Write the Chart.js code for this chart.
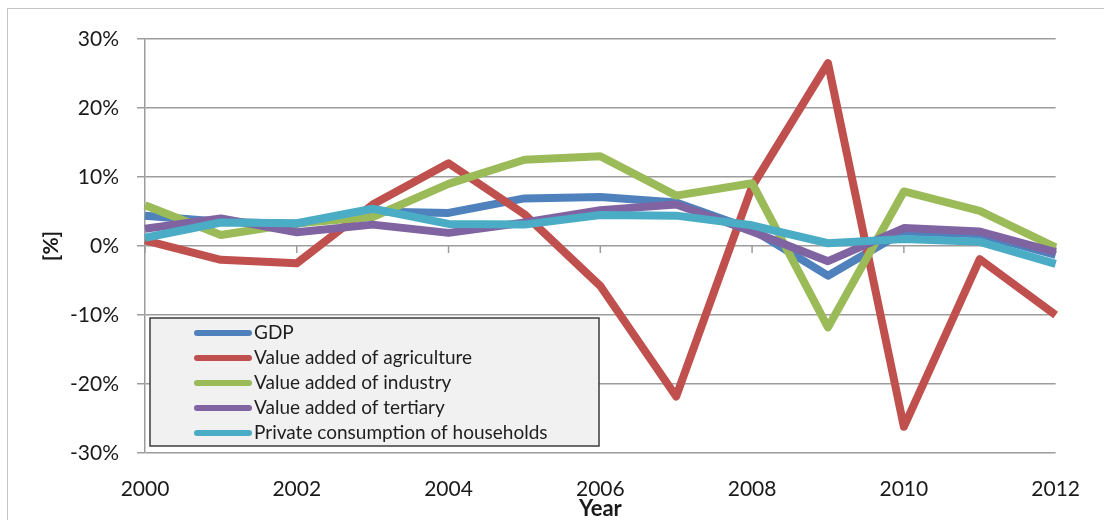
<!DOCTYPE html>
<html>
<head>
<meta charset="utf-8">
<title>Growth rates 2000–2012</title>
<script src="https://cdn.jsdelivr.net/npm/chart.js@4.4.1/dist/chart.umd.min.js"></script>
<style>
  html, body { margin: 0; padding: 0; background: #ffffff; overflow: hidden; }
  #wrap { position: relative; width: 1104px; height: 520px; overflow: hidden; }
  #frame { position: absolute; left: 7px; top: 8px; width: 1200px; height: 600px;
           border: 1.5px solid #c4c4c4; box-sizing: border-box; }
  #c { position: absolute; left: 0; top: 0; }
</style>
</head>
<body>
<div id="wrap">
  <div id="frame"></div>
  <canvas id="c" width="1104" height="520"></canvas>
</div>
<script>
// Years on the horizontal axis
const years = ['2000','2001','2002','2003','2004','2005','2006','2007','2008','2009','2010','2011','2012'];

// Annual growth rates, in percent
const gdp         = [4.4, 3.5, 3.2, 5.0, 4.8, 6.9, 7.1, 6.3, 2.4, -4.3, 2.1, 1.7, -1.3];
const agriculture = [0.8, -2.0, -2.5, 6.0, 12.0, 4.6, -5.8, -21.8, 8.6, 26.5, -26.2, -1.9, -10.0];
const industry    = [5.9, 1.6, 3.3, 4.2, 9.0, 12.5, 13.0, 7.3, 9.1, -11.8, 7.9, 5.1, -0.2];
const tertiary    = [2.5, 4.0, 2.0, 3.1, 1.9, 3.4, 5.2, 6.0, 2.1, -2.2, 2.6, 2.1, -0.9];
const households  = [1.2, 3.4, 3.3, 5.4, 3.2, 3.1, 4.5, 4.4, 3.0, 0.4, 1.0, 0.6, -2.6];

// Series names
const seriesNames = [
  'GDP',
  'Value added of agriculture',
  'Value added of industry',
  'Value added of tertiary',
  'Private consumption of households'
];

// Vertical axis ticks
const yTicks = [-30, -20, -10, 0, 10, 20, 30];

const colors = ['#4F81BD', '#C0504D', '#9BBB59', '#8064A2', '#4BACC6'];
const seriesValues = [gdp, agriculture, industry, tertiary, households];

const datasets = seriesValues.map((vals, i) => ({
  label: seriesNames[i],
  data: vals,
  borderColor: colors[i],
  backgroundColor: colors[i],
  borderWidth: 8,
  pointRadius: 0,
  pointHoverRadius: 0,
  tension: 0,
  fill: false,
  borderCapStyle: 'butt',
  borderJoinStyle: 'round',
  order: seriesValues.length - i   // later series drawn on top
}));

const gridGray = '#9c9c9c';
const labelFont = "Lato, 'Open Sans', 'Liberation Sans', sans-serif";

// Horizontal axis crossing at 0 %, with a tick every two years
const zeroAxisPlugin = {
  id: 'zeroAxis',
  beforeDatasetsDraw(chart) {
    const { ctx, scales: { x, y } } = chart;
    const y0 = y.getPixelForValue(0);
    ctx.save();
    ctx.strokeStyle = gridGray;
    ctx.lineWidth = 1.5;
    ctx.beginPath();
    for (let i = 0; i < years.length; i += 2) {
      const px = x.getPixelForValue(i);
      ctx.moveTo(px, y0);
      ctx.lineTo(px, y0 + 7);
    }
    ctx.stroke();
    ctx.restore();
  }
};

// Boxed legend inside the plot area
const boxLegendPlugin = {
  id: 'boxLegend',
  afterDraw(chart) {
    const ctx = chart.ctx;
    const box = { x: 150, y: 318, w: 449, h: 128 };
    ctx.save();
    ctx.fillStyle = '#f1f1f1';
    ctx.fillRect(box.x, box.y, box.w, box.h);
    ctx.strokeStyle = '#3c3c3c';
    ctx.lineWidth = 1.5;
    ctx.strokeRect(box.x, box.y, box.w, box.h);
    ctx.font = '19px ' + labelFont;
    ctx.textBaseline = 'middle';
    ctx.textAlign = 'left';
    chart.data.datasets.forEach((ds, i) => {
      const cy = box.y + 15 + i * 25;
      ctx.strokeStyle = ds.borderColor;
      ctx.lineWidth = 6;
      ctx.lineCap = 'round';
      ctx.beginPath();
      ctx.moveTo(197, cy);
      ctx.lineTo(249, cy);
      ctx.stroke();
      ctx.fillStyle = '#1e1e1e';
      ctx.fillText(ds.label, 254, cy);
    });
    ctx.restore();
  }
};

new Chart(document.getElementById('c'), {
  type: 'line',
  data: { labels: years, datasets },
  options: {
    responsive: false,
    animation: false,
    devicePixelRatio: 1,
    layout: { padding: { left: 0, top: 39, right: 41, bottom: 0 } },
    plugins: {
      legend: { display: false },
      tooltip: { enabled: false },
      title: { display: false }
    },
    scales: {
      x: {
        type: 'category',
        offset: false,
        grid: { display: false, drawTicks: false },
        border: { display: false },
        ticks: {
          autoSkip: false,
          maxRotation: 0,
          padding: 24,
          color: '#1a1a1a',
          font: { family: labelFont, size: 21 },
          callback: (v, i) => (i % 2 === 0 ? years[i] : '')
        },
        title: {
          display: true,
          text: 'Year',
          color: '#1a1a1a',
          font: { family: labelFont, size: 22, weight: 'bold', lineHeight: 1 },
          padding: { top: 0, bottom: 0 }
        },
        afterFit(scale) { scale.height = 67; }
      },
      y: {
        min: -30,
        max: 30,
        afterBuildTicks(scale) { scale.ticks = yTicks.map(v => ({ value: v })); },
        grid: { color: gridGray, lineWidth: 1.5, tickLength: 8, tickColor: gridGray, drawTicks: true },
        border: { display: true, color: gridGray, width: 1.5 },
        ticks: {
          padding: 18,
          color: '#1a1a1a',
          font: { family: labelFont, size: 21 },
          callback: v => v + '%'
        },
        title: {
          display: true,
          text: '[%]',
          color: '#1a1a1a',
          font: { family: labelFont, size: 21, weight: 'bold', lineHeight: 1 },
          padding: { top: 41, bottom: 0 }
        },
        afterFit(scale) { scale.width = 145; }
      }
    }
  },
  plugins: [zeroAxisPlugin, boxLegendPlugin]
});
</script>
</body>
</html>
